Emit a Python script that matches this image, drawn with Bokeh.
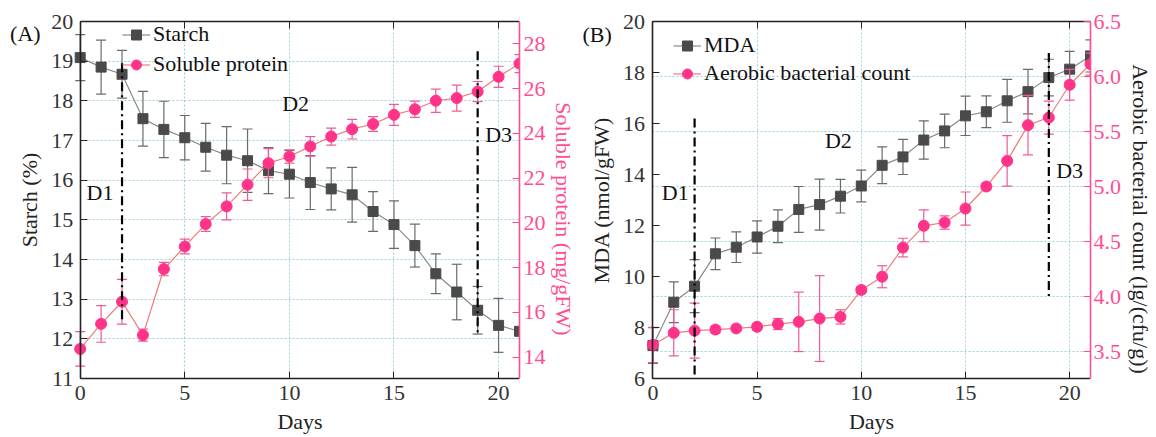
from bokeh.plotting import figure
from bokeh.models import (LinearAxis, Range1d, FixedTicker, Legend, LegendItem,
                          Label, NumeralTickFormatter, CustomJSTickFormatter)
from bokeh.layouts import row
from bokeh.embed import file_html
from bokeh.resources import INLINE

# ---------------- data ----------------
days = list(range(22))

starch = [19.09, 18.85, 18.67, 17.55, 17.28, 17.07, 16.83, 16.63, 16.49, 16.24, 16.15,
          15.94, 15.78, 15.63, 15.21, 14.88, 14.35, 13.64, 13.18, 12.72, 12.34, 12.19]
starch_err = [0.58, 0.68, 0.60, 0.69, 0.71, 0.56, 0.60, 0.72, 0.80, 0.58, 0.60,
              0.68, 0.53, 0.69, 0.50, 0.60, 0.54, 0.50, 0.70, 0.60, 0.68, 0.05]

protein = [14.37, 15.49, 16.48, 14.99, 17.94, 18.95, 19.95, 20.74, 21.71, 22.67, 22.97,
           23.42, 23.86, 24.19, 24.42, 24.83, 25.08, 25.46, 25.58, 25.87, 26.53, 27.12]
protein_err = [0.77, 0.82, 1.00, 0.27, 0.30, 0.33, 0.33, 0.60, 0.70, 0.65, 0.30,
               0.44, 0.38, 0.44, 0.33, 0.47, 0.36, 0.52, 0.58, 0.45, 0.47, 0.40]

mda = [7.29, 8.99, 9.62, 10.89, 11.15, 11.55, 11.97, 12.63, 12.82, 13.15, 13.55,
       14.36, 14.69, 15.35, 15.71, 16.30, 16.46, 16.89, 17.25, 17.80, 18.13, 18.65]
mda_err = [0.70, 0.80, 1.04, 0.62, 0.60, 0.63, 0.64, 0.90, 1.00, 0.66, 0.62,
           0.72, 0.69, 0.75, 0.66, 0.77, 0.62, 0.84, 0.87, 0.72, 0.70, 0.63]

aerobic = [3.56, 3.67, 3.69, 3.70, 3.71, 3.725, 3.75, 3.77, 3.80, 3.815, 4.06,
           4.18, 4.445, 4.643, 4.673, 4.80, 5.00, 5.233, 5.558, 5.627, 5.925, 6.113]
aerobic_err = [0.16, 0.21, 0.25, 0.03, 0.02, 0.03, 0.05, 0.27, 0.39, 0.065, 0.03,
               0.10, 0.085, 0.145, 0.06, 0.15, 0.03, 0.23, 0.27, 0.15, 0.14, 0.10]

day_span = (0, 21)
starch_span = (11, 20)
protein_span = (13.05, 29.0)
mda_span = (6, 20)
aerobic_span = (3.255, 6.5)

x_ticks = [0, 5, 10, 15, 20]
starch_ticks = [11, 12, 13, 14, 15, 16, 17, 18, 19, 20]
protein_ticks = [14, 16, 18, 20, 22, 24, 26, 28]
mda_ticks = [6, 8, 10, 12, 14, 16, 18, 20]
aerobic_ticks = [3.5, 4.0, 4.5, 5.0, 5.5, 6.0, 6.5]

# stage boundaries (day, y from, y to) in the left-axis units of each panel
stageA = [(2, 18.95, 12.4), (19, 19.25, 12.1)]
stageB = [(2, 16.2, 6.15), (19, 18.76, 9.2)]
labelsA = [("D1", 0.95, 15.69), ("D2", 10.3, 17.94), ("D3", 20.0, 17.14)]
labelsB = [("D1", 1.07, 13.3), ("D2", 8.9, 15.35), ("D3", 20.0, 14.17)]
tagA = ("(A)", -3.35, 19.7)
tagB = ("(B)", -3.38, 19.5)

# ---------------- layout geometry (pixels) ----------------
H = 437
TOP, BOTTOM = 21, 378          # plot box top / bottom on the canvas
PX_PER_DAY = 21.0

# ---------------- style ----------------
FONT = "Liberation Serif"
PINK = "#FF3388"
PINK_AX = "#FF4D94"
PINK_ERR = "#EE5C96"
PINK_LINE = "#F07A78"
GRAY = "#4a4a4a"
GRAY_LINE = "#8a8a8a"
GRAY_ERR = "#6a6a6a"
BLACK = "#222222"
GRID = "#9ccfe0"
FS = "22px"


def full_range(span):
    """Range whose plot box (TOP..BOTTOM) shows `span`, padded to the full canvas."""
    lo, hi = span
    k = (BOTTOM - TOP) / (hi - lo)
    return Range1d(lo - (H - BOTTOM) / k, hi + TOP / k)


def style_axis(ax, color, text_color, title_color=None):
    ax.axis_line_color = color
    ax.axis_line_width = 1.6
    ax.major_tick_line_color = color
    ax.major_tick_in = 7
    ax.major_tick_out = 0
    ax.minor_tick_line_color = None
    ax.major_label_text_font = FONT
    ax.major_label_text_font_size = FS
    ax.major_label_text_color = text_color
    ax.axis_label_text_font = FONT
    ax.axis_label_text_font_size = FS
    ax.axis_label_text_font_style = "normal"
    ax.axis_label_text_color = title_color or text_color


def errorbars(p, xs, ys, es, color, y_range_name="default"):
    lo = [y - e for y, e in zip(ys, es)]
    hi = [y + e for y, e in zip(ys, es)]
    p.segment(x0=xs, y0=lo, x1=xs, y1=hi, line_color=color, line_width=1.2,
              y_range_name=y_range_name)
    p.scatter(x=xs, y=lo, marker="dash", size=10, line_color=color, line_width=1.2,
              y_range_name=y_range_name)
    p.scatter(x=xs, y=hi, marker="dash", size=10, line_color=color, line_width=1.2,
              y_range_name=y_range_name)


def base_fig(width, left_space, right, y_span, y_loc):
    x_start = -left_space / PX_PER_DAY
    p = figure(width=width, height=H, output_backend="svg", toolbar_location=None,
               x_range=Range1d(x_start, day_span[1]), y_range=full_range(y_span),
               y_axis_location=y_loc,
               min_border_left=0, min_border_right=right,
               min_border_top=0, min_border_bottom=0)
    p.outline_line_color = None
    p.background_fill_color = "white"
    p.border_fill_color = "white"
    xa = p.xaxis[0]
    xa.ticker = FixedTicker(ticks=x_ticks)
    xa.bounds = day_span
    xa.fixed_location = y_span[0]
    xa.axis_label = "Days"
    xa.major_label_standoff = 7
    xa.axis_label_standoff = 6
    style_axis(xa, BLACK, "#333333", BLACK)
    top = LinearAxis(ticker=FixedTicker(ticks=x_ticks), bounds=day_span,
                     fixed_location=y_span[1],
                     formatter=CustomJSTickFormatter(code="return ''"))
    style_axis(top, BLACK, BLACK)
    top.major_label_text_font_size = "1px"
    top.major_label_standoff = 0
    p.add_layout(top, "above")
    p.xgrid.ticker = FixedTicker(ticks=x_ticks)
    p.xgrid.cross_bounds = y_span
    p.ygrid.cross_bounds = day_span
    for g in (p.xgrid[0], p.ygrid[0]):
        g.grid_line_color = GRID
        g.grid_line_dash = "2 2"
        g.grid_line_width = 1
    return p


# ---------------- panel A ----------------
pA = base_fig(578, 80, 57, starch_span, "left")
ya = pA.yaxis[0]
ya.ticker = FixedTicker(ticks=starch_ticks)
ya.fixed_location = 0
ya.bounds = starch_span
ya.axis_label = "Starch (%)"
ya.major_label_standoff = 7
ya.axis_label_standoff = 7
style_axis(ya, BLACK, "#333333", BLACK)
pA.ygrid.ticker = FixedTicker(ticks=starch_ticks)

pA.extra_y_ranges = {"prot": full_range(protein_span)}
axP = LinearAxis(y_range_name="prot", ticker=FixedTicker(ticks=protein_ticks),
                 bounds=protein_span, axis_label="Soluble protein (mg/gFW)")
style_axis(axP, PINK_AX, PINK_AX)
axP.major_label_standoff = 4
axP.axis_label_standoff = 2
pA.add_layout(axP, "right")

errorbars(pA, days, starch, starch_err, GRAY_ERR)
l1 = pA.line(days, starch, line_color=GRAY_LINE, line_width=1.2)
s1 = pA.scatter(days, starch, marker="square", size=10, fill_color=GRAY, line_color=GRAY)
errorbars(pA, days, protein, protein_err, PINK_ERR, "prot")
l2 = pA.line(days, protein, line_color=PINK_LINE, line_width=1.2, y_range_name="prot")
s2 = pA.scatter(days, protein, marker="circle", size=11, fill_color=PINK, line_color=PINK,
                y_range_name="prot")

for d, y0, y1 in stageA:
    pA.segment(x0=[d], y0=[y0], x1=[d], y1=[y1], line_color="black", line_width=2.2,
               line_dash="9 4 2 4")
for t, x, y in labelsA + [tagA]:
    pA.add_layout(Label(x=x, y=y, text=t, text_font=FONT, text_font_size=FS,
                        text_align="left" if t.startswith("(") else "center",
                        text_baseline="middle", text_color="#111111"))

legA = Legend(items=[LegendItem(label="Starch", renderers=[l1, s1]),
                     LegendItem(label="Soluble protein", renderers=[l2, s2])],
              location=(122, H - 77), margin=0, padding=0, spacing=4,
              glyph_width=28, glyph_height=25, label_height=25, label_standoff=3,
              label_text_font=FONT, label_text_font_size=FS, label_text_color="#111111",
              border_line_color=None, background_fill_alpha=0)
pA.add_layout(legA)

# ---------------- panel B ----------------
pB = base_fig(578, 75, 62, aerobic_span, "right")
yb = pB.yaxis[0]
yb.ticker = FixedTicker(ticks=aerobic_ticks)
yb.bounds = aerobic_span
yb.formatter = NumeralTickFormatter(format="0.0")
yb.axis_label = "Aerobic bacterial count (lg/(cfu/g))"
yb.major_label_standoff = 3
yb.axis_label_standoff = 4
style_axis(yb, PINK_AX, PINK_AX, BLACK)
pB.ygrid.ticker = FixedTicker(ticks=aerobic_ticks)

pB.extra_y_ranges = {"mda": full_range(mda_span)}
axM = LinearAxis(y_range_name="mda", ticker=FixedTicker(ticks=mda_ticks),
                 bounds=mda_span, axis_label="MDA (nmol/gFW)", fixed_location=0)
style_axis(axM, BLACK, "#333333", BLACK)
axM.major_label_standoff = 8
axM.axis_label_standoff = 6
pB.add_layout(axM, "left")

errorbars(pB, days, mda, mda_err, GRAY_ERR, "mda")
l3 = pB.line(days, mda, line_color=GRAY_LINE, line_width=1.2, y_range_name="mda")
s3 = pB.scatter(days, mda, marker="square", size=10, fill_color=GRAY, line_color=GRAY,
                y_range_name="mda")
errorbars(pB, days, aerobic, aerobic_err, PINK_ERR)
l4 = pB.line(days, aerobic, line_color=PINK_LINE, line_width=1.2)
s4 = pB.scatter(days, aerobic, marker="circle", size=11, fill_color=PINK, line_color=PINK)

for d, y0, y1 in stageB:
    pB.segment(x0=[d], y0=[y0], x1=[d], y1=[y1], line_color="black", line_width=2.2,
               line_dash="9 4 2 4", y_range_name="mda")
for t, x, y in labelsB + [tagB]:
    pB.add_layout(Label(x=x, y=y, text=t, text_font=FONT, text_font_size=FS,
                        text_align="left" if t.startswith("(") else "center",
                        text_baseline="middle", text_color="#111111",
                        y_range_name="mda"))

legB = Legend(items=[LegendItem(label="MDA", renderers=[l3, s3]),
                     LegendItem(label="Aerobic bacterial count", renderers=[l4, s4])],
              location=(95, H - 86), margin=0, padding=0, spacing=2,
              glyph_width=28, glyph_height=25, label_height=25, label_standoff=3,
              label_text_font=FONT, label_text_font_size=FS, label_text_color="#111111",
              border_line_color=None, background_fill_alpha=0)
pB.add_layout(legB)

layout = row(pA, pB, spacing=0)
open("out.html", "w").write(file_html(layout, INLINE))
